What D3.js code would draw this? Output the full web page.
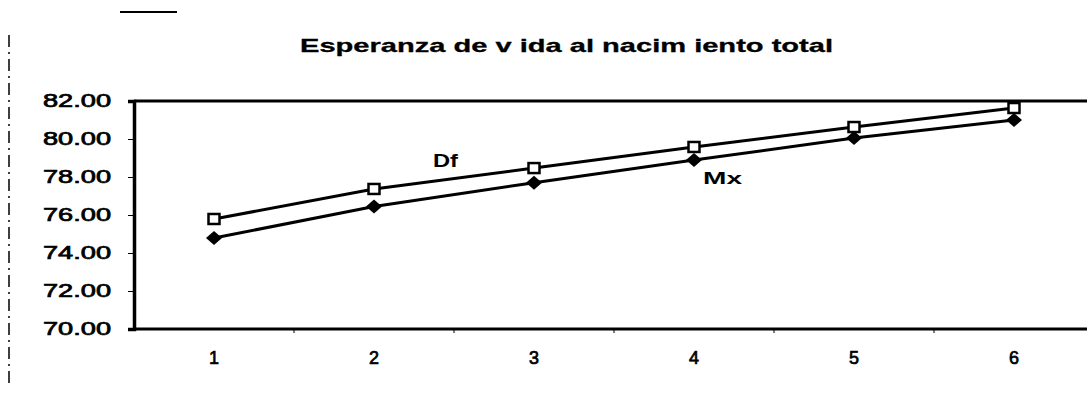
<!DOCTYPE html>
<html>
<head>
<meta charset="utf-8">
<script src="https://cdn.jsdelivr.net/npm/d3@7"></script>
<style>
  body { margin: 0; background: #fff; }
  text { font-family: "Liberation Sans", Arial, sans-serif; fill: #000; }
</style>
</head>
<body>
<div id="chart"></div>
<script>
// data
var periods = ["1", "2", "3", "4", "5", "6"];
var dfValues = [75.79, 77.37, 78.47, 79.58, 80.63, 81.63];
var mxValues = [74.79, 76.45, 77.70, 78.89, 80.05, 81.00];
var yTicks = [70, 72, 74, 76, 78, 80, 82];
var titleText = "Esperanza de v ida al nacim iento total";

var width = 1087, height = 393;
var margin = {top: 101, left: 134, bottom: 64};

var svg = d3.select("#chart").append("svg")
    .attr("width", width)
    .attr("height", height);

// scales
var x = d3.scalePoint().domain(periods).range([margin.left, margin.left + 960]).padding(0.5);
var y = d3.scaleLinear().domain([70, 82]).range([height - margin.bottom, margin.top]);

// scan leftovers (left dashed rule, short stroke on top)
svg.append("line")
    .attr("x1", 9).attr("x2", 9).attr("y1", 35).attr("y2", 388)
    .attr("stroke", "#000").attr("stroke-width", 1.5)
    .attr("stroke-dasharray", "12,5,2,5");
svg.append("line")
    .attr("x1", 120).attr("x2", 177).attr("y1", 12).attr("y2", 12)
    .attr("stroke", "#000").attr("stroke-width", 2);

// title
svg.append("text")
    .attr("x", 300).attr("y", 52)
    .attr("font-size", "19px").attr("font-weight", "bold")
    .attr("stroke", "#000").attr("stroke-width", 0.3)
    .attr("textLength", 533).attr("lengthAdjust", "spacingAndGlyphs")
    .text(titleText);

// frame lines top and bottom
svg.append("line")
    .attr("x1", margin.left).attr("x2", width).attr("y1", y(82)).attr("y2", y(82))
    .attr("stroke", "#000").attr("stroke-width", 3);
svg.append("line")
    .attr("x1", margin.left).attr("x2", width).attr("y1", y(70)).attr("y2", y(70))
    .attr("stroke", "#000").attr("stroke-width", 3);

// y axis
var yAxis = svg.append("g")
    .attr("transform", `translate(${margin.left},0)`)
    .call(d3.axisLeft(y).tickValues(yTicks).tickFormat(d3.format(".2f")).tickSize(6).tickPadding(17));
yAxis.select(".domain").attr("stroke-width", 3.5);
yAxis.selectAll(".tick line").attr("stroke-width", 1);
yAxis.selectAll(".tick text")
    .attr("font-size", "18px")
    .attr("stroke", "#000").attr("stroke-width", 0.7)
    .attr("textLength", 68).attr("lengthAdjust", "spacingAndGlyphs");

// x axis labels
var bounds = periods.slice(0, -1).map(p => x(p) + x.step() / 2);
svg.append("g").selectAll("line")
    .data(bounds)
    .enter().append("line")
    .attr("x1", d => d).attr("x2", d => d)
    .attr("y1", y(70)).attr("y2", y(70) + 4)
    .attr("stroke", "#000").attr("stroke-width", 1);

svg.append("g").selectAll("text")
    .data(periods)
    .enter().append("text")
    .attr("x", d => x(d))
    .attr("y", 364)
    .attr("text-anchor", "middle")
    .attr("font-size", "18px")
    .attr("stroke", "#000").attr("stroke-width", 0.7)
    .text(d => d);

// lines
var line = d3.line().x((d, i) => x(periods[i])).y(d => y(d));

svg.append("path").datum(mxValues)
    .attr("d", line).attr("fill", "none")
    .attr("stroke", "#000").attr("stroke-width", 3);
svg.append("path").datum(dfValues)
    .attr("d", line).attr("fill", "none")
    .attr("stroke", "#000").attr("stroke-width", 3);

// markers
svg.append("g").selectAll("path")
    .data(mxValues)
    .enter().append("path")
    .attr("transform", (d, i) => `translate(${x(periods[i])},${y(d)})`)
    .attr("d", "M0,-7L8,0L0,7L-8,0Z")
    .attr("fill", "#000");

svg.append("g").selectAll("rect")
    .data(dfValues)
    .enter().append("rect")
    .attr("x", (d, i) => x(periods[i]) - 5.5)
    .attr("y", d => y(d) - 5)
    .attr("width", 11).attr("height", 10)
    .attr("fill", "#fff")
    .attr("stroke", "#000").attr("stroke-width", 2.5);

// series names
svg.append("text")
    .attr("x", 433).attr("y", 167)
    .attr("font-size", "18px").attr("font-weight", "bold")
    .attr("textLength", 25).attr("lengthAdjust", "spacingAndGlyphs")
    .text("Df");
svg.append("text")
    .attr("x", 703).attr("y", 184)
    .attr("font-size", "17px").attr("font-weight", "bold")
    .attr("textLength", 39).attr("lengthAdjust", "spacingAndGlyphs")
    .text("Mx");
</script>
</body>
</html>
